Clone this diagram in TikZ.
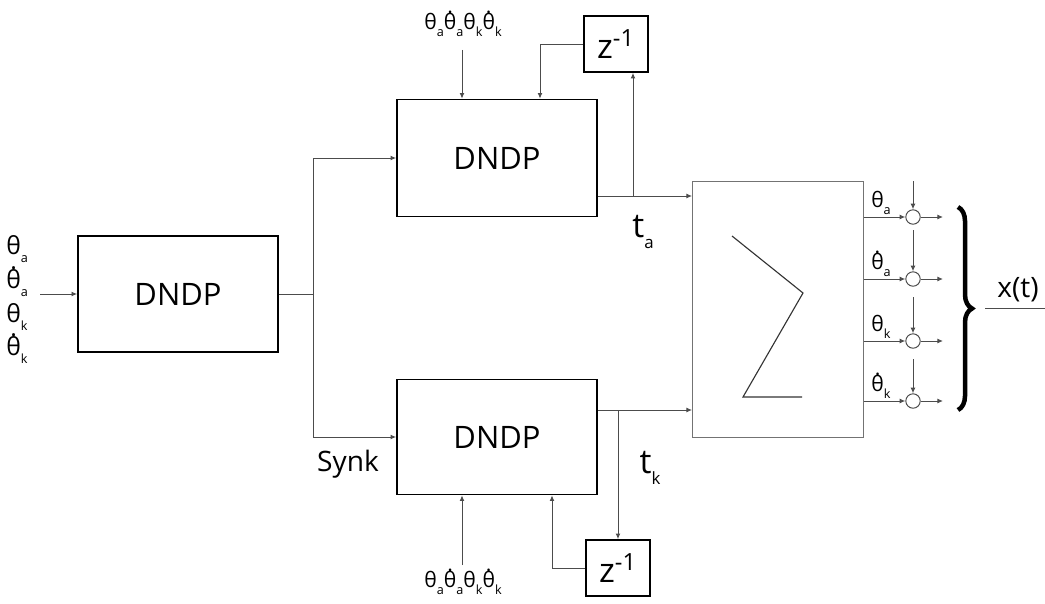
\documentclass[tikz,border=0pt]{standalone}
\usepackage{fontspec}
\setmainfont{Open Sans}
\usetikzlibrary{arrows.meta,positioning,calc,decorations.pathreplacing}

\newcommand\sub[1]{\raisebox{-0.6ex}{\fontsize{9}{9}\selectfont #1}}
\newcommand\dth{{\ooalign{θ\cr\hidewidth\smash{\raisebox{0.76em}{.}}\hidewidth\cr}}}
\newcommand\tha{θ\sub{a}}
\newcommand\thda{\dth\sub{a}}
\newcommand\thk{θ\sub{k}}
\newcommand\thdk{\dth\sub{k}}

\begin{document}
\begin{tikzpicture}[x=0.025cm,y=-0.025cm,>={Latex[length=4pt,width=3.5pt]},
 blk/.style={draw,line width=1.2pt,minimum width=5cm,minimum height=2.9cm,font=\fontsize{22}{26}\selectfont},
 zbox/.style={draw,line width=1.2pt,minimum width=1.6cm,minimum height=1.4cm,inner sep=0pt,font=\fontsize{24}{26}\selectfont},
 ln/.style={draw=black!70,line width=0.7pt},
 circ/.style={circle,draw=black!70,line width=0.7pt,minimum size=0.36cm,inner sep=0pt},
 lbl/.style={inner sep=0pt,font=\fontsize{15}{17}\selectfont}]
\useasboundingbox (0,0) rectangle (1045,604);

% blocks
\node[blk] (dl) at (178,294) {DNDP};
\node[blk,minimum height=2.925cm] (dt) at (497,158) {DNDP};
\node[blk,minimum height=2.875cm] (db) at (497,437) {DNDP};
\node[zbox] (zt) at (616,44) {z\textsuperscript{-1}};
\node[zbox] (zb) at (618,568) {z\textsuperscript{-1}};
\node[draw=black!55,line width=0.6pt,minimum width=4.275cm,minimum height=6.4cm] (sum) at (778,309) {};
\draw[black!80,line width=0.8pt] (732,236) -- (803,293) -- (743,397) -- (802,397);

% inputs
\foreach \y/\l in {249/\tha,283/\thda,317/\thk,350/\thdk}
  \node[lbl,font=\fontsize{17.5}{19}\selectfont,anchor=west] at (6,\y) {\l};
\coordinate (ia) at (40,294);
\draw[ln,->] (ia) -- (dl.west);
\node[lbl] (tin) at (463,25) {\tha\thda\thk\thdk};
\node[lbl] (bin) at (463,583) {\tha\thda\thk\thdk};
\coordinate (ti) at (462,50);
\coordinate (bi) at (462,565);
\draw[ln,->] (ti) -- (ti |- dt.north);
\draw[ln,->] (bi) -- (bi |- db.south);

% synk
\coordinate (js) at (313,294);
\draw[ln] (dl.east) -- (js);
\draw[ln,->] (js) |- (dt.west);
\draw[ln,->] (js) |- (db.west);
\node[font=\fontsize{20}{22}\selectfont] (sy) at (348,464) {Synk};

% feedback
\coordinate (ja) at (633,196);
\coordinate (jk) at (618,410);
\coordinate (ft) at (540,0);
\coordinate (fb) at (552,0);
\draw[ln,->] (ja -| dt.east) -- (ja -| sum.west);
\draw[ln,->] (ja) -- (ja |- zt.south);
\draw[ln,->] (zt.west) -| (ft |- dt.north);
\draw[ln,->] (jk -| db.east) -- (jk -| sum.west);
\draw[ln,->] (jk) -- (zb.north);
\draw[ln,->] (zb.west) -| (fb |- db.south);
\node[font=\fontsize{24}{26}\selectfont] (ta) at (643,232) {t\raisebox{-0.6ex}{\fontsize{12}{12}\selectfont a}};
\node[font=\fontsize{24}{26}\selectfont] (tk) at (650,468) {t\raisebox{-0.6ex}{\fontsize{12}{12}\selectfont k}};

% outputs
\foreach \y/\t/\n/\l in {217/181/1/\tha,279/230/2/\thda,341/297/3/\thk,401/359/4/\thdk}{
  \node[circ] (c\n) at (913,\y) {};
  \draw[ln,->] (sum.east |- c\n) -- (c\n);
  \draw[ln,->] (913,\t) -- (c\n);
  \draw[ln,->] (c\n) -- ++(30,0);
  \node[lbl] at (881,\y-14) {\l};
}
\draw[line width=3.2pt,decorate,decoration={brace,amplitude=0.35cm}] (958,207) -- (958,410);
\node[font=\fontsize{20}{22}\selectfont] (xt) at (1018,290) {x(t)};
\coordinate (xa) at (985,308);
\coordinate (xb) at (1045,308);
\draw[ln] (xa) -- (xb);
\end{tikzpicture}
\end{document}
